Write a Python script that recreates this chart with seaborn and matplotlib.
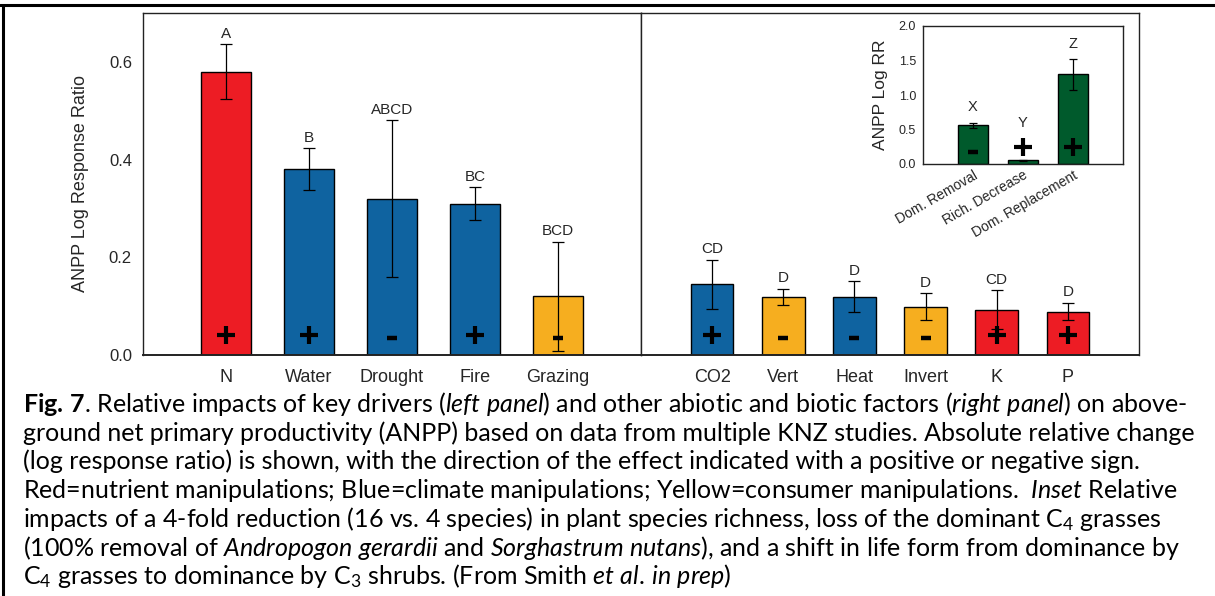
import numpy as np
import pandas as pd
import matplotlib
matplotlib.use('Agg')
import matplotlib.pyplot as plt
import seaborn as sns
from matplotlib.lines import Line2D
from matplotlib.ticker import FormatStrFormatter

# left panel: key drivers
left_labels = ['N', 'Water', 'Drought', 'Fire', 'Grazing']
left_values = [0.58, 0.38, 0.32, 0.31, 0.12]
left_errors = [0.057, 0.043, 0.161, 0.034, 0.112]
left_groups = ['nutrient', 'climate', 'climate', 'climate', 'consumer']
left_letters = ['A', 'B', 'ABCD', 'BC', 'BCD']
left_signs = ['+', '+', '-', '+', '-']

# right panel: other abiotic and biotic factors
right_labels = ['CO2', 'Vert', 'Heat', 'Invert', 'K', 'P']
right_values = [0.145, 0.119, 0.119, 0.099, 0.093, 0.089]
right_errors = [0.050, 0.017, 0.032, 0.027, 0.040, 0.018]
right_groups = ['climate', 'consumer', 'climate', 'consumer', 'nutrient', 'nutrient']
right_letters = ['CD', 'D', 'D', 'D', 'CD', 'D']
right_signs = ['+', '-', '-', '-', '+', '+']

# inset: dominance / richness experiments
inset_labels = ['Dom. Removal', 'Rich. Decrease', 'Dom. Replacement']
inset_values = [0.56, 0.053, 1.30]
inset_errors = [0.04, 0.012, 0.225]
inset_letters = ['X', 'Y', 'Z']
inset_signs = ['-', '+', '+']

group_colors = {'nutrient': '#ED1C24', 'climate': '#0F63A0', 'consumer': '#F6AE1F'}
inset_color = '#005A2C'

sns.set_style('white')
plt.rcParams['font.family'] = ['Liberation Sans', 'DejaVu Sans']
plt.rcParams['mathtext.fontset'] = 'custom'
plt.rcParams['mathtext.rm'] = 'Lato'
plt.rcParams['mathtext.it'] = 'Lato:italic'
plt.rcParams['mathtext.bf'] = 'Lato:bold'

W, H = 1215, 596
fig = plt.figure(figsize=(W / 100, H / 100), dpi=100)
fig.patch.set_facecolor('white')


def px_axes(x0, y0, x1, y1):
    return fig.add_axes([x0 / W, 1 - y1 / H, (x1 - x0) / W, (y1 - y0) / H])


ax_l = px_axes(143, 13, 641, 355)
ax_r = px_axes(641, 13, 1139, 355)
ax_in = px_axes(923, 26, 1123, 164)


def draw_signs(ax, signs, plus_y, minus_y, plus_ms, minus_ms):
    for i, s in enumerate(signs):
        if s == '+':
            ax.plot(i, plus_y, marker='+', ms=plus_ms, mew=3.0, color='black', ls='none', zorder=5)
        else:
            ax.plot(i, minus_y, marker='_', ms=minus_ms, mew=3.2, color='black', ls='none', zorder=5)


def panel(ax, labels, values, errors, groups, letters, signs):
    df = pd.DataFrame({'factor': labels, 'value': values, 'group': groups})
    sns.barplot(data=df, x='factor', y='value', hue='group', palette=group_colors,
                dodge=False, width=0.6, saturation=1, edgecolor='black', linewidth=1.0,
                legend=False, ax=ax, zorder=2)
    pos = np.arange(len(labels))
    ax.errorbar(pos, values, yerr=errors, fmt='none', ecolor='black',
                elinewidth=0.9, capsize=4, capthick=0.9, zorder=4)
    for i, (v, e, t) in enumerate(zip(values, errors, letters)):
        ax.annotate(t, (i, v + e), xytext=(0, 4.5), textcoords='offset points',
                    ha='center', va='baseline', fontsize=11)
    draw_signs(ax, signs, 0.041, 0.034, 13, 7.5)
    ax.set_xlim(-1, len(labels))
    ax.set_ylim(0, 0.7)
    ax.set_yticks([0, 0.2, 0.4, 0.6])
    ax.yaxis.set_major_formatter(FormatStrFormatter('%.1f'))
    ax.set_xlabel('')
    ax.set_ylabel('')
    ax.tick_params(axis='x', direction='in', length=3, pad=10, labelsize=13)
    ax.tick_params(axis='y', direction='in', length=4, pad=8, labelsize=12)
    for sp in ax.spines.values():
        sp.set_visible(True)
        sp.set_color('#222222')
        sp.set_linewidth(1.0)
    ax.spines['bottom'].set_linewidth(1.4)


panel(ax_l, left_labels, left_values, left_errors, left_groups, left_letters, left_signs)
panel(ax_r, right_labels, right_values, right_errors, right_groups, right_letters, right_signs)
ax_l.set_ylabel('ANPP Log Response Ratio', fontsize=13, labelpad=14)
ax_r.tick_params(axis='y', labelleft=False)

# inset
df_in = pd.DataFrame({'treatment': inset_labels, 'value': inset_values})
sns.barplot(data=df_in, x='treatment', y='value', color=inset_color, width=0.6, saturation=1,
            edgecolor='black', linewidth=1.0, ax=ax_in, zorder=2)
ax_in.errorbar(np.arange(3), inset_values, yerr=inset_errors, fmt='none', ecolor='black',
               elinewidth=0.9, capsize=3, capthick=0.9, zorder=4)
draw_signs(ax_in, inset_signs, 0.24, 0.18, 13, 7.5)
for i, (v, e, t, s) in enumerate(zip(inset_values, inset_errors, inset_letters, inset_signs)):
    base = v + e
    if s == '+':
        base = max(base, 0.24 + 0.13)
    ax_in.annotate(t, (i, base), xytext=(0, 8), textcoords='offset points',
                   ha='center', va='baseline', fontsize=10.5)
ax_in.set_xlim(-1, 3)
ax_in.set_ylim(0, 2.0)
ax_in.set_yticks([0, 0.5, 1.0, 1.5, 2.0])
ax_in.yaxis.set_major_formatter(FormatStrFormatter('%.1f'))
ax_in.set_xlabel('')
ax_in.set_ylabel('ANPP Log RR', fontsize=12.5, labelpad=8)
ax_in.tick_params(axis='y', direction='in', length=2, pad=5, labelsize=9)
ax_in.tick_params(axis='x', direction='in', length=0, pad=3, labelsize=10)
for lab in ax_in.get_xticklabels():
    lab.set_rotation(30)
    lab.set_ha('right')
    lab.set_va('top')
    lab.set_rotation_mode('anchor')
for sp in ax_in.spines.values():
    sp.set_visible(True)
    sp.set_color('#222222')
    sp.set_linewidth(1.0)

# outer frame (top and left edges of the figure box)
fig.add_artist(Line2D([0, 1], [1 - 5 / H, 1 - 5 / H], transform=fig.transFigure,
                      color='black', lw=2.2))
fig.add_artist(Line2D([3 / W, 3 / W], [0, 1 - 5 / H], transform=fig.transFigure,
                      color='black', lw=2.2))

# caption
caption_lines = [
    r'$\mathbf{Fig.\,7}$. Relative impacts of key drivers ($\mathit{left}$ $\mathit{panel}$) and other abiotic and biotic factors ($\mathit{right}$ $\mathit{panel}$) on above-',
    'ground net primary productivity (ANPP) based on data from multiple KNZ studies. Absolute relative change',
    '(log response ratio) is shown, with the direction of the effect indicated with a positive or negative sign.',
    r'Red=nutrient manipulations; Blue=climate manipulations; Yellow=consumer manipulations.  $\mathit{Inset}$ Relative',
    r'impacts of a 4-fold reduction (16 vs. 4 species) in plant species richness, loss of the dominant C$_\mathrm{4}$ grasses',
    r'(100% removal of $\mathit{Andropogon}$ $\mathit{gerardii}$ and $\mathit{Sorghastrum}$ $\mathit{nutans}$), and a shift in life form from dominance by',
    r'C$_\mathrm{4}$ grasses to dominance by C$_\mathrm{3}$ shrubs. (From Smith $\mathit{et}$ $\mathit{al.\,in}$ $\mathit{prep}$)',
]

renderer = fig.canvas.get_renderer()
probe = fig.text(23 / W, 0.5, caption_lines[0], fontsize=13, fontfamily='Lato')
w = probe.get_window_extent(renderer).width
probe.remove()
cap_size = 13 * 1164 / w

for k, line in enumerate(caption_lines):
    yb = 412 + 28.7 * k
    fig.text(23 / W, 1 - yb / H, line, fontsize=cap_size, fontfamily='Lato',
             ha='left', va='baseline', color='black')

fig.savefig('out.png', dpi=100, facecolor='white')
